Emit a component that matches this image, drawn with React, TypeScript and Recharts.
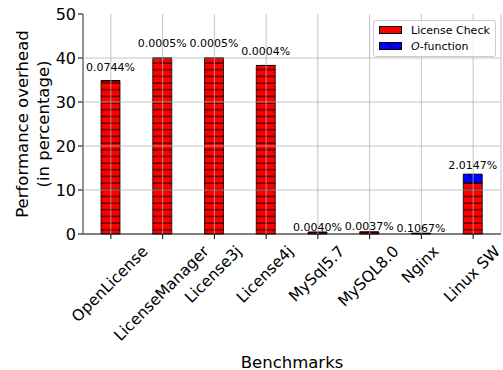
import { Bar, BarChart, CartesianGrid, LabelList, Legend, XAxis, YAxis } from "recharts";

const benchmarks = [
  "OpenLicense",
  "LicenseManager",
  "License3j",
  "License4j",
  "MySql5.7",
  "MySQL8.0",
  "Nginx",
  "Linux SW",
];
// red part (license check overhead, %)
const licenseCheck = [34.8, 40.0, 40.0, 38.3, 0.4, 0.45, 0.1, 11.6];
// blue part (O-function overhead, %), also printed above each bar
const oFunction = [0.0744, 0.0005, 0.0005, 0.0004, 0.004, 0.0037, 0.1067, 2.0147];
const yTicks = [0, 10, 20, 30, 40, 50];
const gridValues = [10, 20, 30, 40];

const data = benchmarks.map((name, i) => ({
  name,
  check: licenseCheck[i],
  ofun: oFunction[i],
}));

const FONT = '"DejaVu Sans", sans-serif';

let ctx: CanvasRenderingContext2D | null = null;
function textWidth(s: string, size: number) {
  if (!ctx) ctx = document.createElement("canvas").getContext("2d");
  if (!ctx) return s.length * size * 0.6;
  ctx.font = `${size}px "DejaVu Sans"`;
  return ctx.measureText(s).width;
}

// rotated 45 deg, bounding box centred on the tick (like ha="center")
function XTick(props: any) {
  const { x, y, payload } = props;
  const size = 15.5;
  const half = ((textWidth(payload.value, size) + size * 1.05) * Math.SQRT1_2) / 2;
  const cy = y + half;
  return (
    <text
      x={x - 1}
      y={cy}
      transform={`rotate(-45 ${x - 1} ${cy})`}
      textAnchor="middle"
      dominantBaseline="central"
      fontSize={size}
      fill="#000"
    >
      {payload.value}
    </text>
  );
}

function YTitle(props: any) {
  const vb = props.viewBox || { x: 0, y: 14, width: 83, height: 220 };
  const cy = vb.y + vb.height / 2;
  const x1 = vb.x + 22;
  const x2 = vb.x + 43;
  return (
    <g fontSize={16.5} fill="#000">
      <text x={x1} y={cy} transform={`rotate(-90 ${x1} ${cy})`} textAnchor="middle" dominantBaseline="central">
        Performance overhead
      </text>
      <text x={x2} y={cy} transform={`rotate(-90 ${x2} ${cy})`} textAnchor="middle" dominantBaseline="central">
        (in percentage)
      </text>
    </g>
  );
}

function XTitle(props: any) {
  const vb = props.viewBox || { x: 83, y: 234, width: 418, height: 136 };
  return (
    <text
      x={vb.x + vb.width / 2}
      y={vb.y + 128}
      textAnchor="middle"
      dominantBaseline="central"
      fontSize={16.5}
      fill="#000"
    >
      Benchmarks
    </text>
  );
}

function renderValue(props: any) {
  const { x, y, width, index } = props;
  const total = licenseCheck[index] + oFunction[index];
  return (
    <text
      x={x + width / 2}
      y={y - 5 - 0.24 * total}
      textAnchor="middle"
      dominantBaseline="central"
      fontSize={11}
      fill="#000"
    >
      {`${oFunction[index].toFixed(4)}%`}
    </text>
  );
}

function LegendBox() {
  const row = { display: "flex", alignItems: "center", height: 16 } as const;
  return (
    <div
      style={{
        border: "1px solid #cccccc",
        borderRadius: 3,
        background: "rgba(255,255,255,0.8)",
        padding: "1px 5px 2px 5px",
        fontSize: 11,
        fontFamily: FONT,
        color: "#000",
        width: 111,
      }}
    >
      <div style={row}>
        <svg width={23} height={8} style={{ marginRight: 9 }}>
          <rect x={0.5} y={0.5} width={22} height={7} fill="#ff0000" stroke="#000" strokeWidth={1} />
        </svg>
        License Check
      </div>
      <div style={row}>
        <svg width={23} height={8} style={{ marginRight: 9 }}>
          <defs>
            <pattern id="legBlue" patternUnits="userSpaceOnUse" width={14} height={14}>
              <rect width={14} height={14} fill="#0000ff" />
              <path d="M8,0 L22,14 M-6,0 L8,14" stroke="#000" strokeWidth={1} />
            </pattern>
          </defs>
          <rect x={0.5} y={0.5} width={22} height={7} fill="url(#legBlue)" stroke="#000" strokeWidth={1} />
        </svg>
        <span>
          <i>O</i>-function
        </span>
      </div>
    </div>
  );
}

export default function App() {
  return (
    <div style={{ position: "fixed", left: 0, top: 0, width: 503, height: 370, fontFamily: FONT, background: "#fff" }}>
      <BarChart width={503} height={370} data={data} margin={{ top: 14, right: 2, bottom: 0, left: 0 }}>
        <defs>
          <pattern id="hatchRed" patternUnits="userSpaceOnUse" width={8} height={6.67}>
            <rect width={8} height={6.67} fill="#ff0000" />
            <line x1={0} y1={3} x2={8} y2={3} stroke="#000" strokeWidth={1} />
          </pattern>
          <pattern id="hatchBlue" patternUnits="userSpaceOnUse" width={14} height={14}>
            <rect width={14} height={14} fill="#0000ff" />
            <path d="M0,0 L14,14 M-7,7 L7,21 M7,-7 L21,7" stroke="#000" strokeWidth={1} />
          </pattern>
        </defs>
        <XAxis
          dataKey="name"
          interval={0}
          padding={{ left: 2, right: 2 }}
          height={136}
          tickSize={5}
          tickMargin={4}
          tickLine={{ stroke: "#000" }}
          axisLine={{ stroke: "#000" }}
          tick={<XTick />}
          label={<XTitle />}
        />
        <XAxis xAxisId="top" dataKey="name" orientation="top" height={0} tick={false} tickLine={false} axisLine={{ stroke: "#000" }} />
        <YAxis
          domain={[0, 50]}
          ticks={yTicks}
          width={83}
          tickSize={5}
          tickMargin={2}
          tickLine={{ stroke: "#000" }}
          axisLine={{ stroke: "#000" }}
          tick={{ fill: "#000", fontSize: 16 }}
          label={<YTitle />}
        />
        <YAxis yAxisId="right" orientation="right" domain={[0, 50]} width={0} tick={false} tickLine={false} axisLine={{ stroke: "#000" }} />
        <Bar dataKey="check" stackId="a" barSize={19} fill="url(#hatchRed)" stroke="#000" strokeWidth={0.8} isAnimationActive={false} />
        <Bar dataKey="ofun" stackId="a" barSize={19} fill="url(#hatchBlue)" stroke="#000" strokeWidth={0.8} isAnimationActive={false}>
          <LabelList dataKey="ofun" content={renderValue} />
        </Bar>
        <CartesianGrid
          horizontalValues={gridValues}
          stroke="#b0b0b0"
          strokeOpacity={0.75}
          strokeWidth={1}
          zIndex={1000}
        />
        <Legend
          layout="vertical"
          align="center"
          verticalAlign="middle"
          content={<LegendBox />}
          wrapperStyle={{ left: 373, top: 20, width: "auto", height: "auto" }}
        />
      </BarChart>
    </div>
  );
}
